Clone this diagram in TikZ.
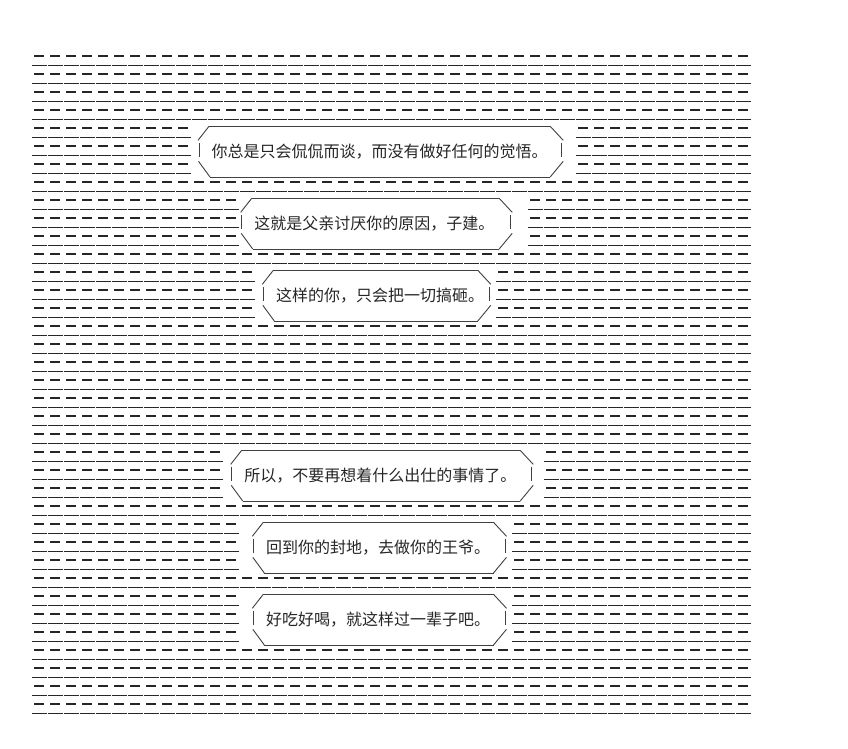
\documentclass[tikz,border=0pt]{standalone}
\usepackage{fontspec}
\newfontfamily\cjk{Noto Sans CJK SC}
\tikzset{
  gaprow/.style={line width=1.2pt, black!85, dash pattern=on 10pt off 6pt},
  solrow/.style={line width=1.2pt, black!85, dash pattern=on 15pt off 1pt},
  boxline/.style={line width=0.9pt, black!75},
  saytext/.style={anchor=west, inner sep=0pt, text=black!85, font=\cjk\fontsize{16pt}{16pt}\selectfont}
}
\newcommand\aabox[5]{% name, L, R, T, text
  \pgfmathsetmacro\bL{#2}\pgfmathsetmacro\bR{#3}\pgfmathsetmacro\bT{#4}
  \pgfmathsetmacro\bB{#4+50.7}
  \draw[boxline] ({\bL+10},\bT) -- ({\bR-11.5},\bT);
  \draw[boxline] ({\bL+10},\bT) -- ({\bL-1},{\bT+14});
  \draw[boxline] (\bL,{\bT+17}) -- (\bL,{\bT+31});
  \draw[boxline] ({\bL-0.5},{\bT+35}) -- ({\bL+11},\bB);
  \draw[boxline] ({\bL+11},\bB) -- ({\bR-11.5},\bB);
  \draw[boxline] ({\bR+1.5},{\bT+35}) -- ({\bR-11.5},\bB);
  \draw[boxline] (\bR,{\bT+17}) -- (\bR,{\bT+31});
  \draw[boxline] ({\bR-11.5},\bT) -- ({\bR+1.5},{\bT+14});
  \node[saytext] (#1) at ({\bL+12.5},{\bT+25.5}) {#5};
}
\begin{document}
\begin{tikzpicture}[x=1pt,y=-1pt]
\fill[white] (0,0) rectangle (848,748);
\useasboundingbox (0,0) rectangle (848,748);
\foreach \k in {0,...,36}{
  \pgfmathsetmacro\yg{56+18*\k}
  \pgfmathsetmacro\ys{65.7+18*\k}
  \def\lo{99}\def\hi{99}
  \ifnum\k>3 \ifnum\k<7 \def\lo{10}\def\hi{33}\fi\fi
  \ifnum\k>7 \ifnum\k<11 \def\lo{13}\def\hi{30}\fi\fi
  \ifnum\k>11 \ifnum\k<15 \def\lo{14}\def\hi{28}\fi\fi
  \ifnum\k>21 \ifnum\k<25 \def\lo{12}\def\hi{31}\fi\fi
  \ifnum\k>25 \ifnum\k<29 \def\lo{13}\def\hi{29}\fi\fi
  \ifnum\k>29 \ifnum\k<33 \def\lo{13}\def\hi{29}\fi\fi
  \ifnum\lo=99
    \draw[gaprow] (34,\yg) -- (748,\yg);
    \draw[solrow] (32.3,\ys) -- (751.3,\ys);
  \else
    \draw[gaprow] (34,\yg) -- ({34+16*\lo-6},\yg);
    \draw[gaprow] ({34+16*(\hi+1)},\yg) -- (748,\yg);
    \draw[solrow] (32.3,\ys) -- ({32.3+16*\lo-1},\ys);
    \draw[solrow] ({32.3+16*(\hi+1)},\ys) -- (751.3,\ys);
  \fi
}
\aabox{t1}{199}{561.7}{126.3}{你总是只会侃侃而谈，而没有做好任何的觉悟。}
\aabox{t2}{241.7}{510.7}{198.3}{这就是父亲讨厌你的原因，子建。}
\aabox{t3}{263.3}{489.3}{270.3}{这样的你，只会把一切搞砸。}
\aabox{t4}{231.7}{531.7}{450.3}{所以，不要再想着什么出仕的事情了。}
\aabox{t5}{253.3}{505}{522.3}{回到你的封地，去做你的王爷。}
\aabox{t6}{253.3}{505}{594.3}{好吃好喝，就这样过一辈子吧。}
\end{tikzpicture}
\end{document}
